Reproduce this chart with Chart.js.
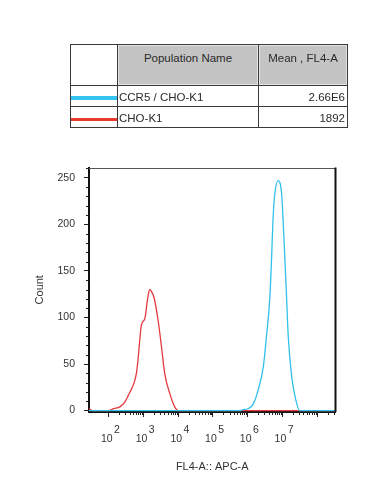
<!DOCTYPE html>
<html>
<head>
<meta charset="utf-8">
<script src="https://cdn.jsdelivr.net/npm/chart.js@4.4.1/dist/chart.umd.min.js"></script>
<style>
  html, body { margin: 0; padding: 0; background: #fff; }
  #wrap { position: relative; width: 367px; height: 497px; overflow: hidden; }
  #c { position: absolute; left: 0; top: 0; }
  table.pop {
    position: absolute; left: 70px; top: 44px;
    border-collapse: collapse; table-layout: fixed;
    font: 11.5px 'Liberation Sans', Arial, sans-serif; color: #2a2a2a;
  }
  table.pop td { border: 1px solid #3a3a3a; padding: 0; overflow: hidden; white-space: nowrap; box-sizing: border-box; }
  table.pop tr.hd td { height: 41px; vertical-align: top; }
  table.pop tr.hd td.g { background: #c4c4c4; box-shadow: inset 0 0 0 1px #e4e4e4; text-align: center; padding-top: 7px; }
  table.pop tr.rw td { height: 21px; vertical-align: bottom; padding-bottom: 2px; line-height: 13px; }
  table.pop td.num { text-align: right; padding-right: 2px; }
  table.pop td.nm { padding-left: 1px; }
  .sw { height: 4px; width: 100%; margin-bottom: 4px; }
</style>
</head>
<body>
<div id="wrap">
  <canvas id="c" width="367" height="497"></canvas>
  <table class="pop">
    <colgroup><col style="width:47px"><col style="width:141px"><col style="width:89px"></colgroup>
    <tr class="hd"><td></td><td class="g">Population Name</td><td class="g">Mean , FL4-A</td></tr>
    <tr class="rw"><td><div class="sw" style="background:#33c3ee"></div></td><td class="nm">CCR5 / CHO-K1</td><td class="num">2.66E6</td></tr>
    <tr class="rw"><td><div class="sw" style="background:#e8392f;height:3px"></div></td><td class="nm">CHO-K1</td><td class="num">1892</td></tr>
  </table>
</div>
<script>
// x values are in log10 units (decades) of FL4-A
const xTickExps = [2, 3, 4, 5, 6, 7];
const yTicks = [0, 50, 100, 150, 200, 250];

const cyanX = [1.43, 5.78, 5.87, 6.01, 6.16, 6.30, 6.45, 6.54, 6.64, 6.69, 6.73, 6.78, 6.88, 6.98, 7.02, 7.07, 7.12, 7.17, 7.27, 7.39, 7.50, 8.53];
const cyanY = [0, 0, 1, 2, 7, 22, 47, 79, 122, 165, 205, 232, 247, 232, 205, 165, 122, 79, 36, 11, 0, 0];

const redX = [1.43, 1.54, 1.98, 2.14, 2.32, 2.46, 2.61, 2.72, 2.80, 2.85, 2.89, 2.94, 3.04, 3.11, 3.18, 3.24, 3.30, 3.42, 3.52, 3.61, 3.76, 3.90, 4.00, 8.53];
const redY = [2, 0, 0, 2, 4, 9, 20, 29, 41, 58, 75, 92, 99, 118, 130, 127, 122, 97, 68, 40, 18, 4, 0, 0];

const FONT = "'Liberation Sans', Arial, sans-serif";
const TXT = '#333';

function pts(xs, ys) { return xs.map((x, i) => ({ x: x, y: ys[i] })); }

// minor tick marks + top/right frame
const frameTicks = {
  id: 'frameTicks',
  afterDraw(chart) {
    const ctx = chart.ctx, a = chart.chartArea;
    const xs = chart.scales.x, ys = chart.scales.y;
    ctx.save();
    ctx.strokeStyle = '#222';
    ctx.lineWidth = 1;
    ctx.beginPath();
    for (let d = 2; d <= 8; d++) {
      for (let k = 1; k <= 9; k++) {
        const v = d + Math.log10(k);
        if (v < xs.min || v > xs.max) continue;
        if (k === 1 && xTickExps.indexOf(d) >= 0) continue;
        const px = Math.round(xs.getPixelForValue(v)) + 0.5;
        ctx.moveTo(px, a.bottom);
        ctx.lineTo(px, a.bottom + (k === 1 ? 5 : 3));
      }
    }
    for (let v = 10; v <= ys.max; v += 10) {
      if (v % 50 === 0) continue;
      const py = Math.round(ys.getPixelForValue(v)) + 0.5;
      ctx.moveTo(a.left, py);
      ctx.lineTo(a.left - 3, py);
    }
    ctx.stroke();
    ctx.strokeStyle = '#555';
    ctx.beginPath();
    ctx.moveTo(a.left, Math.round(a.top) + 0.5);
    ctx.lineTo(a.right, Math.round(a.top) + 0.5);
    ctx.stroke();
    ctx.strokeStyle = '#111';
    ctx.lineWidth = 2;
    ctx.beginPath();
    ctx.moveTo(a.right, a.top);
    ctx.lineTo(a.right, a.bottom);
    ctx.stroke();
    ctx.restore();
  }
};

new Chart(document.getElementById('c'), {
  type: 'line',
  data: {
    datasets: [
      { label: 'CCR5 / CHO-K1', data: pts(cyanX, cyanY), borderColor: '#2fc1ea', borderWidth: 1.3, pointRadius: 0, cubicInterpolationMode: 'monotone', fill: false },
      { label: 'CHO-K1', data: pts(redX, redY), borderColor: '#e5393f', borderWidth: 1.3, pointRadius: 0, cubicInterpolationMode: 'monotone', fill: false }
    ]
  },
  options: {
    responsive: false,
    animation: false,
    devicePixelRatio: 1,
    layout: { padding: { left: 0, right: 31.5, top: 167.5, bottom: 0 } },
    plugins: { legend: { display: false }, tooltip: { enabled: false } },
    scales: {
      x: {
        type: 'linear', min: 1.43, max: 8.53,
        afterBuildTicks: s => { s.ticks = xTickExps.map(v => ({ value: v })); },
        afterFit: s => { s.height = 85; },
        ticks: {
          color: TXT, font: { family: FONT, size: 10.5, lineHeight: 0.9 }, padding: 8, labelOffset: -2,
          maxRotation: 0, autoSkip: false,
          callback: v => ['       ' + v, '10']
        },
        grid: { drawOnChartArea: false, drawTicks: true, tickLength: 5, tickColor: '#222' },
        border: { display: true, color: '#111', width: 2 },
        title: { display: true, text: 'FL4-A:: APC-A', color: TXT, font: { family: FONT, size: 11 }, padding: { top: 23, bottom: 23 } }
      },
      y: {
        min: -1.5, max: 261,
        afterBuildTicks: s => { s.ticks = yTicks.map(v => ({ value: v })); },
        afterFit: s => { s.width = 89; },
        ticks: { color: TXT, font: { family: FONT, size: 10.5 }, padding: 9 },
        grid: { drawOnChartArea: false, drawTicks: true, tickLength: 5, tickColor: '#222' },
        border: { display: true, color: '#111', width: 2 },
        title: { display: true, text: 'Count', color: TXT, font: { family: FONT, size: 11 }, padding: { top: 33, bottom: 33 } }
      }
    }
  },
  plugins: [frameTicks]
});
</script>
</body>
</html>
